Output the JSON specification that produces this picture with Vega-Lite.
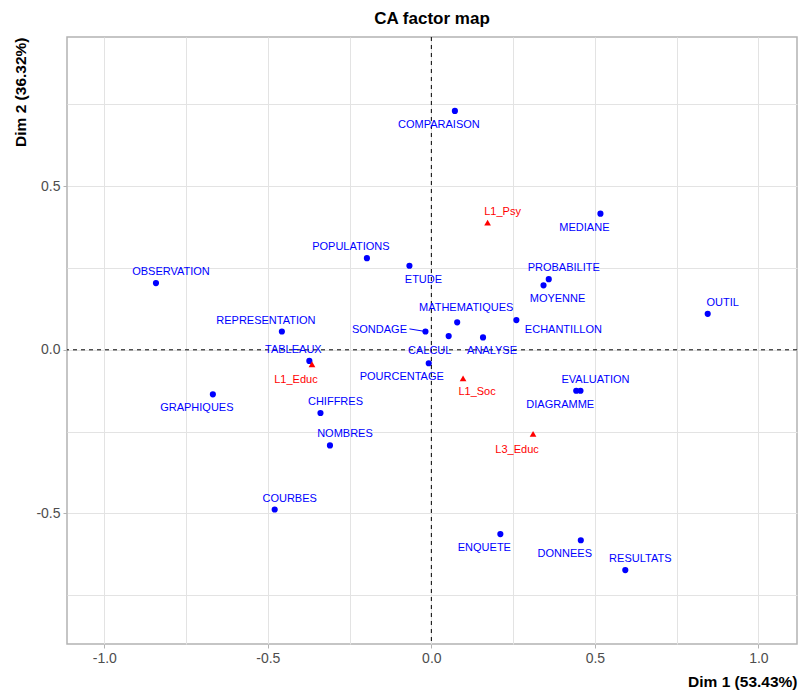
{
  "$schema": "https://vega.github.io/schema/vega-lite/v6.json",
  "width": 730,
  "height": 607,
  "autosize": {"type": "none"},
  "padding": {"left": 67, "top": 37, "right": 1, "bottom": 49},
  "background": "white",
  "title": {"text": "CA factor map", "fontSize": 17, "fontWeight": "bold", "font": "Liberation Sans", "color": "black", "anchor": "middle", "offset": 9},
  "config": {
    "font": "Liberation Sans",
    "view": {"stroke": "#b3b3b3", "strokeWidth": 1.5},
    "axis": {
      "domain": false,
      "grid": true,
      "gridColor": "#e3e3e3",
      "gridWidth": 1,
      "ticks": true,
      "tickColor": "#b3b3b3",
      "tickSize": 4,
      "tickWidth": 1,
      "labelFont": "Liberation Sans",
      "labelFontSize": 14,
      "labelColor": "#4d4d4d",
      "labelPadding": 3,
      "titleFont": "Liberation Sans",
      "titleFontSize": 15.5,
      "titleFontWeight": "bold",
      "titleColor": "black"
    }
  },
  "data": {
    "values": [
      {"label": "COMPARAISON", "x": 0.072, "y": 0.730, "type": "row"},
      {"label": "MEDIANE", "x": 0.517, "y": 0.416, "type": "row"},
      {"label": "ETUDE", "x": -0.067, "y": 0.257, "type": "row"},
      {"label": "PROBABILITE", "x": 0.359, "y": 0.216, "type": "row"},
      {"label": "MOYENNE", "x": 0.343, "y": 0.197, "type": "row"},
      {"label": "OUTIL", "x": 0.845, "y": 0.110, "type": "row"},
      {"label": "ECHANTILLON", "x": 0.260, "y": 0.091, "type": "row"},
      {"label": "MATHEMATIQUES", "x": 0.079, "y": 0.084, "type": "row"},
      {"label": "SONDAGE", "x": -0.018, "y": 0.056, "type": "row"},
      {"label": "CALCUL", "x": 0.053, "y": 0.042, "type": "row"},
      {"label": "ANALYSE", "x": 0.158, "y": 0.038, "type": "row"},
      {"label": "POURCENTAGE", "x": -0.008, "y": -0.041, "type": "row"},
      {"label": "TABLEAUX", "x": -0.373, "y": -0.034, "type": "row"},
      {"label": "OBSERVATION", "x": -0.842, "y": 0.204, "type": "row"},
      {"label": "POPULATIONS", "x": -0.197, "y": 0.280, "type": "row"},
      {"label": "REPRESENTATION", "x": -0.457, "y": 0.056, "type": "row"},
      {"label": "GRAPHIQUES", "x": -0.668, "y": -0.136, "type": "row"},
      {"label": "CHIFFRES", "x": -0.339, "y": -0.193, "type": "row"},
      {"label": "NOMBRES", "x": -0.310, "y": -0.292, "type": "row"},
      {"label": "COURBES", "x": -0.479, "y": -0.488, "type": "row"},
      {"label": "EVALUATION", "x": 0.456, "y": -0.125, "type": "row"},
      {"label": "DIAGRAMME", "x": 0.443, "y": -0.125, "type": "row"},
      {"label": "ENQUETE", "x": 0.211, "y": -0.563, "type": "row"},
      {"label": "DONNEES", "x": 0.457, "y": -0.582, "type": "row"},
      {"label": "RESULTATS", "x": 0.593, "y": -0.673, "type": "row"},
      {"label": "L1_Psy", "x": 0.172, "y": 0.389, "type": "col"},
      {"label": "L1_Soc", "x": 0.097, "y": -0.087, "type": "col"},
      {"label": "L1_Educ", "x": -0.365, "y": -0.044, "type": "col"},
      {"label": "L3_Educ", "x": 0.311, "y": -0.257, "type": "col"}
    ]
  },
  "layer": [
    {
      "mark": {"type": "point", "filled": true, "opacity": 1},
      "encoding": {
        "x": {"field": "x", "type": "quantitative", "scale": {"domain": [-1.114, 1.118], "nice": false, "zero": false},
          "axis": {"title": "Dim 1 (53.43%)", "values": [-1, -0.75, -0.5, -0.25, 0, 0.25, 0.5, 0.75, 1],
            "labelExpr": "abs(datum.value % 0.5) < 0.001 ? replace(format(datum.value, '.1f'), '−', '-') : ''",
            "tickOpacity": {"condition": {"test": "abs(datum.value % 0.5) < 0.001", "value": 1}, "value": 0},
            "titleAnchor": "end", "titleAlign": "right", "titleBaseline": "middle", "titleX": 730, "titleY": 37}},
        "y": {"field": "y", "type": "quantitative", "scale": {"domain": [-0.899, 0.956], "nice": false, "zero": false},
          "axis": {"title": "Dim 2 (36.32%)", "values": [-0.75, -0.5, -0.25, 0, 0.25, 0.5, 0.75],
            "labelExpr": "abs(datum.value % 0.5) < 0.001 ? replace(format(datum.value, '.1f'), '−', '-') : ''",
            "tickOpacity": {"condition": {"test": "abs(datum.value % 0.5) < 0.001", "value": 1}, "value": 0},
            "titleAngle": -90, "titleAlign": "right", "titleBaseline": "middle", "titleX": -47, "titleY": 0}},
        "color": {"field": "type", "type": "nominal", "scale": {"domain": ["row", "col"], "range": ["#0000ff", "#ff0000"]}, "legend": null},
        "shape": {"field": "type", "type": "nominal", "scale": {"domain": ["row", "col"], "range": ["circle", "triangle-up"]}, "legend": null},
        "size": {"field": "type", "type": "nominal", "scale": {"domain": ["row", "col"], "range": [38, 45]}, "legend": null}
      }
    },
    {
      "data": {"values": [{"v": 0}]},
      "mark": {"type": "rule", "color": "black", "strokeDash": [4, 4], "strokeWidth": 1},
      "encoding": {"x": {"field": "v", "type": "quantitative", "title": "Dim 1 (53.43%)"}}
    },
    {
      "data": {"values": [{"v": 0}]},
      "mark": {"type": "rule", "color": "black", "strokeDash": [4, 4], "strokeWidth": 1},
      "encoding": {"y": {"field": "v", "type": "quantitative", "title": "Dim 2 (36.32%)"}}
    },
    {
      "transform": [{"filter": {"field": "label", "equal": "SONDAGE"}}],
      "mark": {"type": "rule", "color": "#0000ff", "strokeWidth": 1},
      "encoding": {
        "x": {"field": "x", "type": "quantitative", "title": "Dim 1 (53.43%)"},
        "y": {"field": "y", "type": "quantitative", "title": "Dim 2 (36.32%)"},
        "x2": {"datum": -0.067}, "y2": {"datum": 0.064}
      }
    },
    {
      "transform": [{"filter": {"field": "label", "oneOf": ["L1_Psy", "PROBABILITE", "OUTIL", "OBSERVATION", "CHIFFRES", "NOMBRES", "COURBES", "EVALUATION", "RESULTATS"]}}],
      "mark": {"type": "text", "fontSize": 11, "dx": 15, "dy": -11, "baseline": "middle", "align": "center"},
      "encoding": {
        "x": {"field": "x", "type": "quantitative", "title": "Dim 1 (53.43%)"},
        "y": {"field": "y", "type": "quantitative", "title": "Dim 2 (36.32%)"},
        "text": {"field": "label"},
        "color": {"field": "type", "type": "nominal", "legend": null}
      }
    },
    {
      "transform": [{"filter": {"field": "label", "oneOf": ["MATHEMATIQUES"]}}],
      "mark": {"type": "text", "fontSize": 11, "dx": 9, "dy": -14, "baseline": "middle", "align": "center"},
      "encoding": {
        "x": {"field": "x", "type": "quantitative", "title": "Dim 1 (53.43%)"},
        "y": {"field": "y", "type": "quantitative", "title": "Dim 2 (36.32%)"},
        "text": {"field": "label"},
        "color": {"field": "type", "type": "nominal", "legend": null}
      }
    },
    {
      "transform": [{"filter": {"field": "label", "oneOf": ["TABLEAUX", "POPULATIONS", "REPRESENTATION"]}}],
      "mark": {"type": "text", "fontSize": 11, "dx": -16, "dy": -11, "baseline": "middle", "align": "center"},
      "encoding": {
        "x": {"field": "x", "type": "quantitative", "title": "Dim 1 (53.43%)"},
        "y": {"field": "y", "type": "quantitative", "title": "Dim 2 (36.32%)"},
        "text": {"field": "label"},
        "color": {"field": "type", "type": "nominal", "legend": null}
      }
    },
    {
      "transform": [{"filter": {"field": "label", "oneOf": ["ETUDE", "MOYENNE", "L1_Soc"]}}],
      "mark": {"type": "text", "fontSize": 11, "dx": 14, "dy": 14, "baseline": "middle", "align": "center"},
      "encoding": {
        "x": {"field": "x", "type": "quantitative", "title": "Dim 1 (53.43%)"},
        "y": {"field": "y", "type": "quantitative", "title": "Dim 2 (36.32%)"},
        "text": {"field": "label"},
        "color": {"field": "type", "type": "nominal", "legend": null}
      }
    },
    {
      "transform": [{"filter": {"field": "label", "oneOf": ["ANALYSE"]}}],
      "mark": {"type": "text", "fontSize": 11, "dx": 9, "dy": 14, "baseline": "middle", "align": "center"},
      "encoding": {
        "x": {"field": "x", "type": "quantitative", "title": "Dim 1 (53.43%)"},
        "y": {"field": "y", "type": "quantitative", "title": "Dim 2 (36.32%)"},
        "text": {"field": "label"},
        "color": {"field": "type", "type": "nominal", "legend": null}
      }
    },
    {
      "transform": [{"filter": {"field": "label", "oneOf": ["MEDIANE", "GRAPHIQUES", "DIAGRAMME", "ENQUETE", "DONNEES", "COMPARAISON"]}}],
      "mark": {"type": "text", "fontSize": 11, "dx": -16, "dy": 14, "baseline": "middle", "align": "center"},
      "encoding": {
        "x": {"field": "x", "type": "quantitative", "title": "Dim 1 (53.43%)"},
        "y": {"field": "y", "type": "quantitative", "title": "Dim 2 (36.32%)"},
        "text": {"field": "label"},
        "color": {"field": "type", "type": "nominal", "legend": null}
      }
    },
    {
      "transform": [{"filter": {"field": "label", "oneOf": ["L1_Educ", "L3_Educ"]}}],
      "mark": {"type": "text", "fontSize": 11, "dx": -16, "dy": 16, "baseline": "middle", "align": "center"},
      "encoding": {
        "x": {"field": "x", "type": "quantitative", "title": "Dim 1 (53.43%)"},
        "y": {"field": "y", "type": "quantitative", "title": "Dim 2 (36.32%)"},
        "text": {"field": "label"},
        "color": {"field": "type", "type": "nominal", "legend": null}
      }
    },
    {
      "transform": [{"filter": {"field": "label", "oneOf": ["CALCUL"]}}],
      "mark": {"type": "text", "fontSize": 11, "dx": -19, "dy": 15, "baseline": "middle", "align": "center"},
      "encoding": {
        "x": {"field": "x", "type": "quantitative", "title": "Dim 1 (53.43%)"},
        "y": {"field": "y", "type": "quantitative", "title": "Dim 2 (36.32%)"},
        "text": {"field": "label"},
        "color": {"field": "type", "type": "nominal", "legend": null}
      }
    },
    {
      "transform": [{"filter": {"field": "label", "oneOf": ["ECHANTILLON"]}}],
      "mark": {"type": "text", "fontSize": 11, "dx": 47, "dy": 10, "baseline": "middle", "align": "center"},
      "encoding": {
        "x": {"field": "x", "type": "quantitative", "title": "Dim 1 (53.43%)"},
        "y": {"field": "y", "type": "quantitative", "title": "Dim 2 (36.32%)"},
        "text": {"field": "label"},
        "color": {"field": "type", "type": "nominal", "legend": null}
      }
    },
    {
      "transform": [{"filter": {"field": "label", "oneOf": ["SONDAGE"]}}],
      "mark": {"type": "text", "fontSize": 11, "dx": -46, "dy": -2, "baseline": "middle", "align": "center"},
      "encoding": {
        "x": {"field": "x", "type": "quantitative", "title": "Dim 1 (53.43%)"},
        "y": {"field": "y", "type": "quantitative", "title": "Dim 2 (36.32%)"},
        "text": {"field": "label"},
        "color": {"field": "type", "type": "nominal", "legend": null}
      }
    },
    {
      "transform": [{"filter": {"field": "label", "oneOf": ["POURCENTAGE"]}}],
      "mark": {"type": "text", "fontSize": 11, "dx": -27, "dy": 14, "baseline": "middle", "align": "center"},
      "encoding": {
        "x": {"field": "x", "type": "quantitative", "title": "Dim 1 (53.43%)"},
        "y": {"field": "y", "type": "quantitative", "title": "Dim 2 (36.32%)"},
        "text": {"field": "label"},
        "color": {"field": "type", "type": "nominal", "legend": null}
      }
    }
  ]
}
